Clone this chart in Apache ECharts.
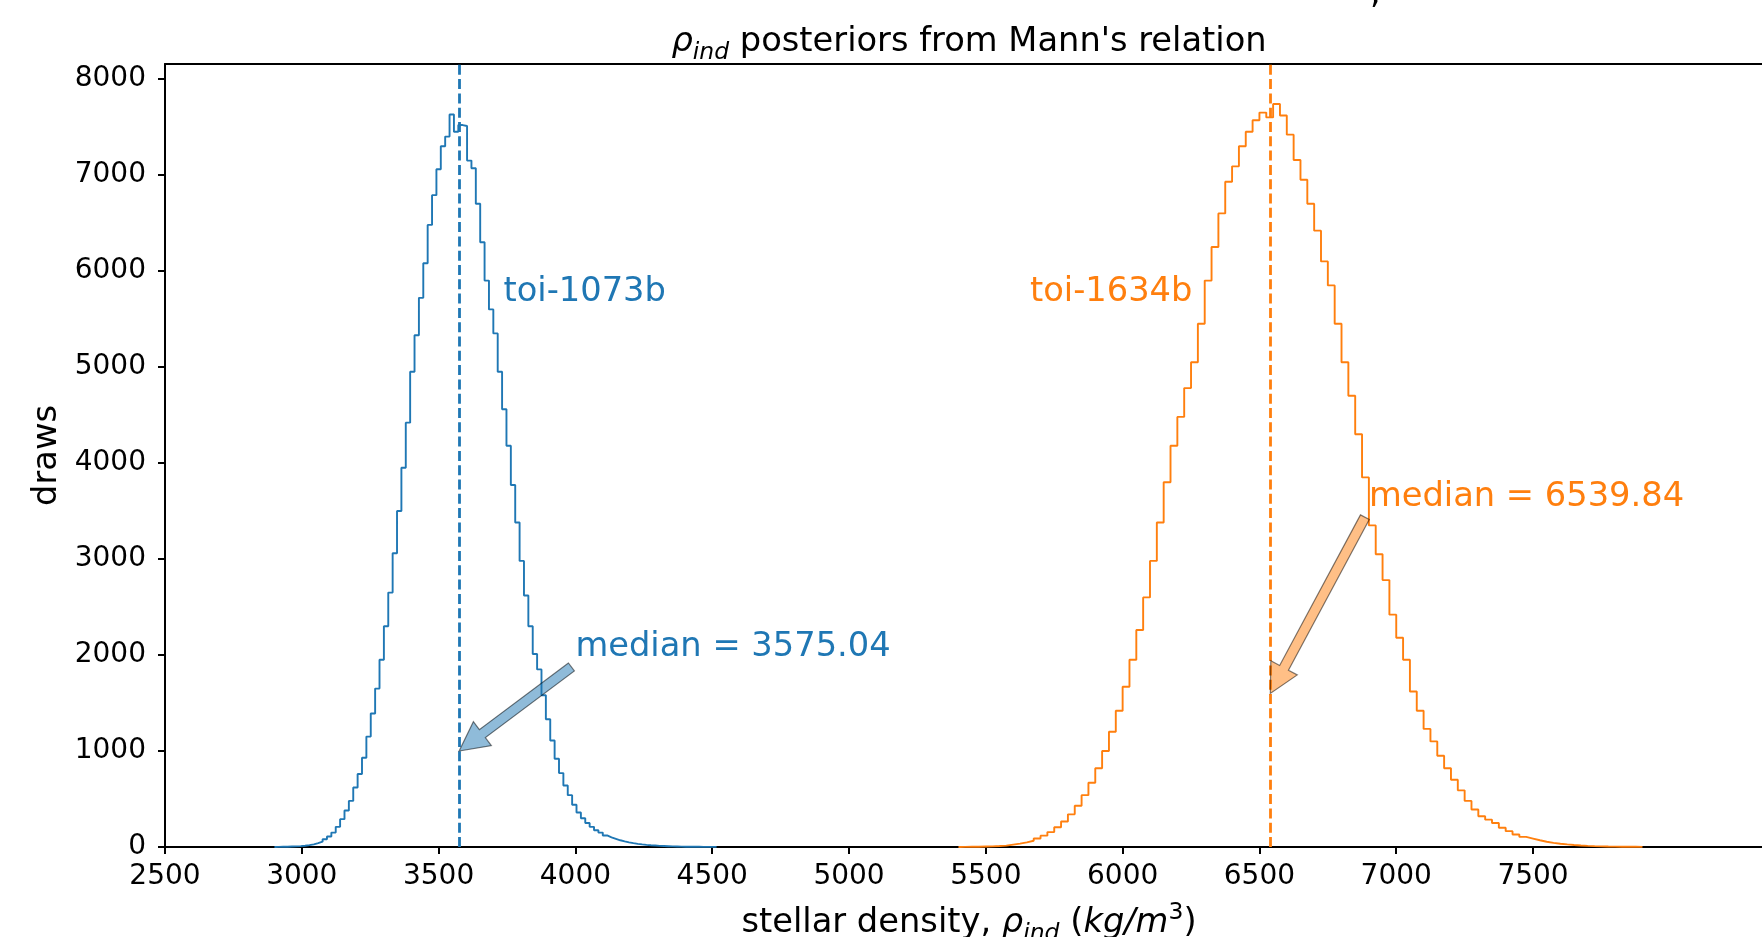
<!DOCTYPE html>
<html><head><meta charset="utf-8">
<script src="https://cdn.jsdelivr.net/npm/echarts@6/dist/echarts.min.js"></script>
<style>html,body{margin:0;padding:0;background:#fff}#c{width:1762px;height:937px}</style>
</head><body><div id="c"></div>
<script>
// ---- data ----
const xTickValues = [2500, 3000, 3500, 4000, 4500, 5000, 5500, 6000, 6500, 7000, 7500];
const yTickValues = [0, 1000, 2000, 3000, 4000, 5000, 6000, 7000, 8000];
const seriesNames = ['toi-1073b', 'toi-1634b'];
const blueStart = 2900, blueBinWidth = 16;
const blueCounts = [
  1, 2, 3, 5, 6, 9, 13, 19, 27, 40,
  55, 80, 110, 150, 210, 290, 380, 480, 620, 760,
  930, 1150, 1390, 1650, 1950, 2300, 2650, 3060, 3500, 3950,
  4420, 4950, 5330, 5720, 6080, 6480, 6790, 7060, 7300, 7400,
  7630, 7450, 7520, 7510, 7150, 7070, 6700, 6300, 5900, 5600,
  5350, 4950, 4560, 4180, 3770, 3380, 2980, 2620, 2300, 2010,
  1850, 1580, 1330, 1110, 920, 770, 640, 540, 440, 360,
  300, 250, 210, 175, 150, 120, 100, 85, 70, 58,
  48, 40, 33, 27, 22, 18, 15, 12, 10, 8,
  6, 5, 4, 3, 3, 2, 2, 1, 1, 1, 1];
const orangeStart = 5400, orangeBinWidth = 25;
const orangeCounts = [
  1, 2, 3, 5, 7, 10, 14, 25, 35, 48,
  65, 88, 118, 155, 205, 265, 340, 430, 540, 670,
  820, 1000, 1200, 1420, 1670, 1950, 2260, 2600, 2980, 3380,
  3800, 4180, 4480, 4780, 5050, 5450, 5900, 6250, 6600, 6930,
  7090, 7300, 7450, 7570, 7650, 7600, 7740, 7620, 7420, 7156,
  6950, 6700, 6420, 6100, 5850, 5450, 5050, 4700, 4300, 3850,
  3350, 3050, 2780, 2420, 2180, 1950, 1620, 1420, 1230, 1100,
  950, 820, 700, 590, 480, 390, 320, 285, 250, 200,
  165, 130, 105, 88, 70, 55, 43, 34, 27, 21,
  16, 12, 9, 7, 5, 4, 3, 2, 2, 1];
const medians = [3575.04, 6539.84];
const arrowTipY = [1000, 1600];
const medianTextPos = [[4000, 2000], [6900, 3560]];
const nameTextPos = [[3737, 5700], [6255, 5700]];
const colors = ['#1f77b4', '#ff7f0e'];
const arrowFill = ['rgba(31,119,180,0.5)', 'rgba(255,127,14,0.5)'];

const FONT = '"DejaVu Sans"';
const FS = 33.7, FS_SUB = 23.5, FS_TICK = 28;

function stepPoints(start, w, counts) {
  const pts = [[start, 0]];
  counts.forEach((c, i) => {
    pts.push([start + i * w, c]);
    pts.push([start + (i + 1) * w, c]);
  });
  pts.push([start + counts.length * w, 0]);
  return pts;
}

const chart = echarts.init(document.getElementById('c'), null, {renderer: 'canvas'});

function histSeries(i, pts) {
  return {
    type: 'line', name: seriesNames[i], data: pts, symbol: 'none', showSymbol: false,
    lineStyle: {color: colors[i], width: 1.9}, itemStyle: {color: colors[i]},
    animation: false, z: 2,
    markLine: {
      silent: true, symbol: ['none', 'none'], animation: false,
      label: {show: false},
      lineStyle: {color: colors[i], width: 2.8, type: [10, 4.3]},
      data: [{xAxis: medians[i]}]
    }
  };
}

const axisLineStyle = {color: '#000', width: 2};
const plain = v => String(v);
const richStyles = (key) => ({
  n: {fontSize: FS, fontFamily: FONT, lineHeight: 44, verticalAlign: 'middle', [key]: '#000'},
  i: {fontSize: FS, fontFamily: FONT, fontStyle: 'italic', lineHeight: 44, verticalAlign: 'middle', [key]: '#000'},
  s: {fontSize: FS_SUB, fontFamily: FONT, fontStyle: 'italic', lineHeight: 23, verticalAlign: 'bottom', [key]: '#000'},
  p: {fontSize: FS_SUB, fontFamily: FONT, lineHeight: 23, verticalAlign: 'top', [key]: '#000'}
});
chart.setOption({
  backgroundColor: '#fff',
  animation: false,
  grid: {left: 165, top: 64, width: 1608, bottom: 90, containLabel: false, outerBoundsMode: 'none'},
  xAxis: [{
    type: 'value', min: 2500, max: 8377,
    axisLine: {show: true, onZero: false, lineStyle: axisLineStyle},
    axisTick: {show: true, length: 7, lineStyle: axisLineStyle, customValues: xTickValues},
    axisLabel: {show: true, color: '#000', fontSize: FS_TICK, fontFamily: FONT, margin: 16, customValues: xTickValues, formatter: plain},
    splitLine: {show: false},
    name: '{n|stellar density, }{i|ρ}{s|ind}{n| (}{i|kg/m}{p|3}{n|)}',
    nameLocation: 'middle', nameGap: 54,
    nameTextStyle: {color: '#000', fontFamily: FONT, fontSize: FS, rich: richStyles('color')}
  }, {
    type: 'value', position: 'top', min: 2500, max: 8377,
    axisLine: {show: true, onZero: false, lineStyle: axisLineStyle},
    axisTick: {show: false}, axisLabel: {show: false}, splitLine: {show: false}
  }],
  yAxis: {
    type: 'value', min: 0, max: 8156, interval: 1000,
    axisLine: {show: true, lineStyle: axisLineStyle},
    axisTick: {show: true, length: 7, lineStyle: axisLineStyle, customValues: yTickValues},
    axisLabel: {color: '#000', fontSize: FS_TICK, fontFamily: FONT, margin: 19, customValues: yTickValues, formatter: plain},
    splitLine: {show: false},
    name: 'draws', nameLocation: 'middle', nameGap: 92,
    nameTextStyle: {color: '#000', fontFamily: FONT, fontSize: FS}
  },
  series: [
    histSeries(0, stepPoints(blueStart, blueBinWidth, blueCounts)),
    histSeries(1, stepPoints(orangeStart, orangeBinWidth, orangeCounts))
  ]
});

function px(p) { return chart.convertToPixel({gridIndex: 0}, p); }

function arrowShape(tail, tip) {
  const dx = tip[0] - tail[0], dy = tip[1] - tail[1];
  const L = Math.hypot(dx, dy), ux = dx / L, uy = dy / L, nx = -uy, ny = ux;
  const hl = 29, hw = 30, w = 10;
  const bx = tip[0] - ux * hl, by = tip[1] - uy * hl;
  return [
    [tail[0] + nx * w / 2, tail[1] + ny * w / 2],
    [bx + nx * w / 2, by + ny * w / 2],
    [bx + nx * hw / 2, by + ny * hw / 2],
    [tip[0], tip[1]],
    [bx - nx * hw / 2, by - ny * hw / 2],
    [bx - nx * w / 2, by - ny * w / 2],
    [tail[0] - nx * w / 2, tail[1] - ny * w / 2]
  ];
}

const elements = [];
const gridLeft = px([2500, 0])[0], gridRight = px([8377, 0])[0];
const textFont = FS + 'px ' + FONT;
// title
elements.push({
  type: 'text', x: (gridLeft + gridRight) / 2, y: 42, z: 10,
  style: {
    text: '{i|ρ}{s|ind}{n| posteriors from Mann\'s relation}',
    align: 'center', verticalAlign: 'middle',
    rich: richStyles('fill')
  }
});
// clipped fragment of a text above the figure
elements.push({type: 'text', x: 1370, y: -6, style: {text: ',', font: textFont, fill: '#000', verticalAlign: 'middle'}});

for (let i = 0; i < 2; i++) {
  const tip = px([medians[i], arrowTipY[i]]);
  const tp = px(medianTextPos[i]);
  const tail = [tp[0] - 4, tp[1] + 12];
  elements.push({
    type: 'polygon', z: 5,
    shape: {points: arrowShape(tail, tip)},
    style: {fill: arrowFill[i], stroke: 'rgba(0,0,0,0.5)', lineWidth: 1.2}
  });
  elements.push({
    type: 'text', x: tp[0], y: tp[1] - 8, z: 6,
    style: {text: 'median = ' + medians[i].toFixed(2), font: textFont, fill: colors[i], align: 'left', verticalAlign: 'middle'}
  });
  const np = px(nameTextPos[i]);
  elements.push({
    type: 'text', x: np[0], y: np[1] - 8, z: 6,
    style: {text: seriesNames[i], font: textFont, fill: colors[i], align: i === 0 ? 'left' : 'right', verticalAlign: 'middle'}
  });
}
chart.setOption({graphic: {elements: elements}});
</script>
</body></html>
